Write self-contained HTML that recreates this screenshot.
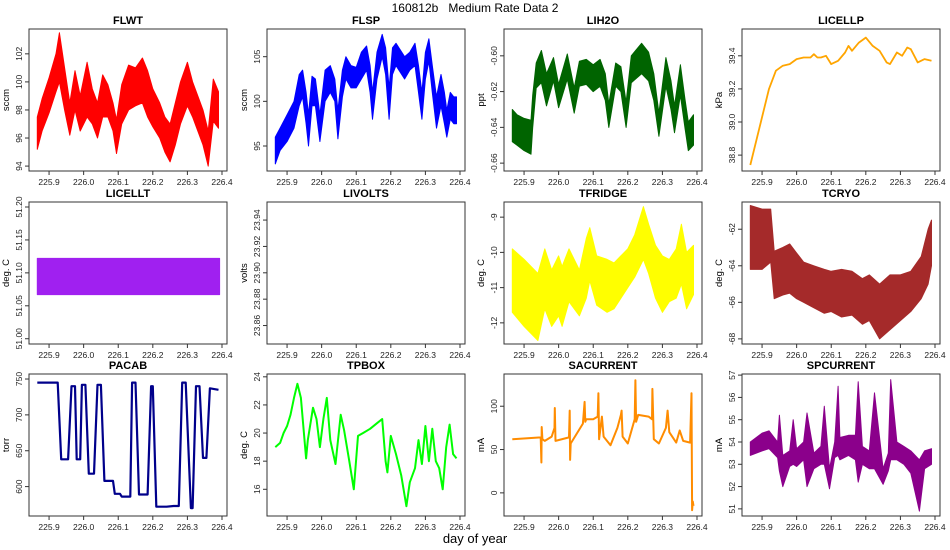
<!DOCTYPE html>
<html><head><meta charset="utf-8"><style>
html,body{margin:0;padding:0;background:#fff}
svg{display:block;font-family:"Liberation Sans",sans-serif}
</style></head><body>
<svg id="chart" width="950" height="550" viewBox="0 0 950 550" xmlns="http://www.w3.org/2000/svg">
<text x="475" y="12" text-anchor="middle" font-size="12">160812b&#160;&#160;&#160;Medium Rate Data 2</text>
<text x="475" y="543" text-anchor="middle" font-size="13">day of year</text>
</svg>
<script>
const xTicks=[225.9,226.0,226.1,226.2,226.3,226.4];
const xTickLabels=["225.9","226.0","226.1","226.2","226.3","226.4"];

const flwtT=[225.866,225.88,225.90,225.92,225.93,225.945,225.96,225.975,225.99,226.01,226.025,226.04,226.055,226.07,226.085,226.095,226.11,226.13,226.15,226.17,226.185,226.20,226.22,226.235,226.25,226.265,226.28,226.30,226.315,226.33,226.345,226.36,226.375,226.39];
const flwtLo=[95.2,96.5,97.8,99.3,100.0,98.0,96.2,98.0,96.5,97.5,97.0,96.0,97.5,97.5,96.5,94.9,97.0,98.0,98.3,98.5,97.5,96.8,96.0,95.0,94.3,95.5,97.0,98.3,97.5,96.5,95.5,94.0,97.2,96.7];
const flwtHi=[97.5,98.8,100.3,102.0,103.5,101.0,98.5,100.8,99.0,101.4,99.5,98.5,100.5,99.8,98.5,97.3,99.8,101.2,101.0,101.7,100.8,99.5,98.5,97.5,97.0,98.5,100.0,101.4,100.0,99.0,98.0,96.5,100.2,99.3];

const flspT=[225.866,225.88,225.90,225.92,225.935,225.945,225.955,225.962,225.972,225.982,225.995,226.01,226.025,226.038,226.047,226.06,226.07,226.085,226.10,226.115,226.13,226.14,226.147,226.16,226.175,226.185,226.195,226.205,226.215,226.24,226.255,226.27,226.28,226.29,226.30,226.31,226.32,226.332,226.345,226.355,226.362,226.372,226.382,226.39];
const flspLo=[93.0,94.5,95.5,97.0,99.5,100.5,97.5,95.0,99.5,99.5,95.5,100.0,101.0,100.0,95.8,100.5,102.5,101.5,101.5,102.5,103.5,101.0,98.0,102.5,105.0,103.0,98.0,103.0,104.0,102.5,103.5,104.0,101.0,98.0,102.5,104.5,101.0,97.0,99.5,97.5,96.0,98.0,97.5,97.5];
const flspHi=[96.0,97.0,98.5,100.0,103.0,103.5,101.0,98.5,102.8,102.5,98.5,103.5,104.0,102.5,99.0,103.5,105.0,104.0,103.8,105.5,106.2,104.0,101.0,105.5,107.5,106.0,101.5,106.0,106.5,105.0,105.5,106.5,104.0,101.0,105.5,107.0,104.0,100.5,103.0,101.0,99.0,101.0,100.5,100.5];

const lih2oT=[225.866,225.88,225.90,225.92,225.925,225.935,225.95,225.965,225.985,226.00,226.025,226.045,226.06,226.08,226.10,226.12,226.135,226.145,226.165,226.18,226.195,226.21,226.24,226.26,226.275,226.29,226.31,226.325,226.335,226.352,226.365,226.375,226.39];
const lih2oLo=[-0.648,-0.650,-0.653,-0.655,-0.640,-0.618,-0.615,-0.628,-0.614,-0.629,-0.613,-0.632,-0.617,-0.616,-0.620,-0.617,-0.625,-0.640,-0.617,-0.620,-0.640,-0.615,-0.610,-0.614,-0.625,-0.645,-0.617,-0.630,-0.643,-0.622,-0.640,-0.653,-0.650];
const lih2oHi=[-0.630,-0.633,-0.635,-0.636,-0.622,-0.604,-0.597,-0.610,-0.601,-0.616,-0.599,-0.618,-0.603,-0.602,-0.605,-0.602,-0.610,-0.627,-0.604,-0.606,-0.626,-0.600,-0.593,-0.598,-0.610,-0.632,-0.601,-0.614,-0.628,-0.605,-0.624,-0.637,-0.633];

const licellpT=[225.866,225.92,225.94,225.96,225.98,226.00,226.02,226.04,226.05,226.06,226.07,226.085,226.10,226.12,226.14,226.15,226.16,226.18,226.20,226.22,226.24,226.26,226.27,226.29,226.305,226.32,226.33,226.35,226.37,226.39];
const licellpV=[38.74,39.20,39.31,39.34,39.35,39.38,39.39,39.39,39.41,39.39,39.39,39.40,39.35,39.37,39.42,39.46,39.43,39.48,39.51,39.46,39.43,39.36,39.35,39.42,39.40,39.45,39.44,39.36,39.38,39.37];

const licelltT=[225.866,226.393];
const licelltLo=[51.067,51.067];
const licelltHi=[51.122,51.122];

const tfridgeT=[225.866,225.90,225.94,225.96,225.98,226.00,226.01,226.03,226.06,226.08,226.09,226.11,226.14,226.16,226.18,226.20,226.22,226.245,226.26,226.28,226.30,226.32,226.34,226.355,226.37,226.39];
const tfridgeLo=[-11.7,-12.1,-12.5,-11.6,-12.1,-11.8,-12.1,-11.4,-11.8,-11.3,-10.8,-11.5,-11.7,-11.6,-11.3,-11.0,-10.7,-10.2,-10.6,-11.3,-11.7,-11.4,-11.3,-10.9,-11.6,-11.2];
const tfridgeHi=[-9.9,-10.2,-10.6,-9.9,-10.5,-10.1,-10.4,-9.9,-10.5,-9.6,-9.3,-10.1,-10.2,-10.3,-10.1,-9.9,-9.5,-8.7,-9.2,-9.8,-10.1,-10.2,-9.9,-9.2,-10.0,-9.8];

const tcryoT=[225.866,225.90,225.925,225.935,225.96,225.98,226.00,226.02,226.05,226.08,226.10,226.13,226.16,226.19,226.21,226.24,226.27,226.30,226.33,226.36,226.38,226.39];
const tcryoLo=[-64.2,-64.2,-63.8,-65.8,-65.6,-65.5,-65.8,-66.0,-66.3,-66.6,-66.5,-66.8,-66.7,-67.2,-67.0,-68.0,-67.5,-67.0,-66.5,-65.8,-65.0,-64.0];
const tcryoHi=[-60.7,-60.9,-60.9,-63.2,-63.0,-62.8,-63.3,-63.8,-64.0,-64.2,-64.3,-64.2,-64.3,-64.7,-64.5,-65.0,-64.5,-64.5,-64.3,-63.5,-62.0,-61.5];

const pacabT=[225.866,225.925,225.935,225.955,225.965,225.975,225.98,225.99,225.995,226.005,226.015,226.03,226.04,226.05,226.06,226.085,226.09,226.105,226.11,226.135,226.14,226.15,226.16,226.185,226.195,226.20,226.21,226.24,226.26,226.275,226.285,226.295,226.31,226.315,226.325,226.335,226.345,226.355,226.365,226.39];
const pacabV=[745,745,638,638,740,740,638,638,742,742,618,618,742,742,608,608,590,590,586,586,745,745,589,589,740,740,572,572,573,573,745,745,570,570,740,740,640,640,737,735];

const tpboxT=[225.866,225.88,225.89,225.90,225.91,225.92,225.93,225.94,225.955,225.96,225.975,225.985,225.995,226.005,226.015,226.025,226.04,226.055,226.065,226.08,226.093,226.105,226.12,226.14,226.16,226.175,226.185,226.19,226.20,226.215,226.23,226.245,226.255,226.27,226.28,226.29,226.30,226.31,226.32,226.33,226.34,226.35,226.36,226.37,226.38,226.39];
const tpboxV=[19.0,19.3,20.0,20.5,21.3,22.5,23.5,22.5,18.2,19.5,21.8,21.0,19.0,21.0,22.5,19.5,17.8,21.3,20.2,18.0,16.0,19.8,20.0,20.3,20.7,21.0,18.0,17.2,19.8,18.5,17.0,14.8,16.5,17.5,19.5,17.8,20.5,18.0,20.3,18.0,17.5,16.0,19.0,20.6,18.5,18.2];

const sacurT=[225.866,225.948,225.950,225.951,225.953,225.96,225.98,225.988,225.989,225.991,226.03,226.032,226.033,226.035,226.07,226.075,226.077,226.08,226.10,226.113,226.115,226.117,226.125,226.13,226.15,226.17,226.18,226.182,226.185,226.20,226.22,226.222,226.224,226.23,226.26,226.27,226.271,226.275,226.29,226.31,226.315,226.32,226.34,226.35,226.36,226.38,226.384,226.386,226.388,226.39];
const sacurV=[62,64,35,76,62,60,65,75,98,60,64,95,38,57,80,105,82,85,85,88,115,62,88,65,55,75,90,95,65,57,85,130,82,90,88,85,120,62,57,75,95,70,58,72,60,58,115,-20,-10,-15];

const spcurT=[225.866,225.90,225.92,225.945,225.95,225.96,225.98,225.99,226.00,226.02,226.03,226.05,226.07,226.08,226.095,226.11,226.12,226.125,226.15,226.17,226.178,226.19,226.21,226.225,226.25,226.265,226.272,226.29,226.31,226.33,226.355,226.37,226.39];
const spcurLo=[53.4,53.6,53.7,53.3,52.7,52.0,52.9,53.0,52.9,53.2,52.0,52.8,53.0,53.0,51.9,53.3,53.4,53.2,53.4,53.2,52.2,53.0,52.8,52.8,52.1,52.7,53.2,53.2,53.0,52.6,50.9,52.8,53.0];
const spcurHi=[54.0,54.4,54.5,54.0,55.2,53.4,53.6,55.0,53.7,54.0,55.3,53.5,53.8,55.6,52.8,54.0,56.5,54.2,54.3,54.3,56.7,53.8,53.6,56.2,52.8,53.5,56.8,54.0,53.8,53.6,53.2,53.6,53.7];

const panels=[
 {name:"FLWT",col:0,row:0,ylab:"sccm",ymin:93.65,ymax:103.77,yt:[94,96,98,100,102],ytl:["94","96","98","100","102"],color:"#ff0000",t:flwtT,lo:flwtLo,hi:flwtHi},
 {name:"FLSP",col:1,row:0,ylab:"sccm",ymin:92.2,ymax:108.1,yt:[95,100,105],ytl:["95","100","105"],color:"#0000ff",t:flspT,lo:flspLo,hi:flspHi},
 {name:"LIH2O",col:2,row:0,ylab:"ppt",ymin:-0.6644,ymax:-0.585,yt:[-0.66,-0.64,-0.62,-0.60],ytl:["-0.66","-0.64","-0.62","-0.60"],color:"#006400",t:lih2oT,lo:lih2oLo,hi:lih2oHi},
 {name:"LICELLP",col:3,row:0,ylab:"kPa",ymin:38.704,ymax:39.562,yt:[38.8,39.0,39.2,39.4],ytl:["38.8","39.0","39.2","39.4"],color:"#ffa500",t:licellpT,v:licellpV,sw:1.8},
 {name:"LICELLT",col:0,row:1,ylab:"deg. C",ymin:50.992,ymax:51.2076,yt:[51.0,51.05,51.1,51.15,51.2],ytl:["51.00","51.05","51.10","51.15","51.20"],color:"#a020f0",t:licelltT,lo:licelltLo,hi:licelltHi},
 {name:"LIVOLTS",col:1,row:1,ylab:"volts",ymin:23.846,ymax:23.9537,yt:[23.86,23.88,23.90,23.92,23.94],ytl:["23.86","23.88","23.90","23.92","23.94"],color:"#000",t:[]},
 {name:"TFRIDGE",col:2,row:1,ylab:"deg. C",ymin:-12.6,ymax:-8.57,yt:[-12,-11,-10,-9],ytl:["-12","-11","-10","-9"],color:"#ffff00",t:tfridgeT,lo:tfridgeLo,hi:tfridgeHi},
 {name:"TCRYO",col:3,row:1,ylab:"deg. C",ymin:-68.28,ymax:-60.51,yt:[-68,-66,-64,-62],ytl:["-68","-66","-64","-62"],color:"#a52a2a",t:tcryoT,lo:tcryoLo,hi:tcryoHi},
 {name:"PACAB",col:0,row:2,ylab:"torr",ymin:559,ymax:757,yt:[600,650,700,750],ytl:["600","650","700","750"],color:"#00008b",t:pacabT,v:pacabV,sw:2.2},
 {name:"TPBOX",col:1,row:2,ylab:"deg. C",ymin:14.1,ymax:24.2,yt:[16,18,20,22,24],ytl:["16","18","20","22","24"],color:"#00ff00",t:tpboxT,v:tpboxV,sw:2},
 {name:"SACURRENT",col:2,row:2,ylab:"mA",ymin:-26.7,ymax:137.2,yt:[0,50,100],ytl:["0","50","100"],color:"#ff8c00",t:sacurT,v:sacurV,sw:2},
 {name:"SPCURRENT",col:3,row:2,ylab:"mA",ymin:50.68,ymax:57.05,yt:[51,52,53,54,55,56,57],ytl:["51","52","53","54","55","56","57"],color:"#8b008b",t:spcurT,lo:spcurLo,hi:spcurHi}
];
const colX=[29,267,504,742], rowY=[29,202,374], PW=198, PH=142, XMIN=225.842, XMAX=226.4145;
const NS="http://www.w3.org/2000/svg";
const svg=document.getElementById("chart");
function mk(tag,attrs,parent){const e=document.createElementNS(NS,tag);for(const k in attrs)e.setAttribute(k,attrs[k]);(parent||svg).appendChild(e);return e;}
panels.forEach(p=>{
  const x0=colX[p.col], y0=rowY[p.row];
  const sx=t=>x0+(t-XMIN)/(XMAX-XMIN)*PW;
  const sy=v=>y0+PH-(v-p.ymin)/(p.ymax-p.ymin)*PH;
  const key=p.name.toLowerCase();
  const g=mk("g",{});
  
  
  if(p.lo&&p.t.length){
    let pts=p.t.map((t,i)=>sx(t).toFixed(1)+","+sy(p.hi[i]).toFixed(1));
    for(let i=p.t.length-1;i>=0;i--)pts.push(sx(p.t[i]).toFixed(1)+","+sy(p.lo[i]).toFixed(1));
    const poly=mk("polygon",{points:pts.join(" "),fill:p.color,stroke:p.color,"stroke-width":1,"stroke-linejoin":"round"},g);
    
    
  } else if(p.v){
    const pts=p.t.map((t,i)=>sx(t).toFixed(1)+","+sy(p.v[i]).toFixed(1)).join(" ");
    const pl=mk("polyline",{points:pts,fill:"none",stroke:p.color,"stroke-width":p.sw||1.5,"stroke-linejoin":"round"},g);
    
    
  }
  const fr=mk("rect",{x:x0,y:y0,width:PW,height:PH,fill:"none",stroke:"#333","stroke-width":1},g);
  
  
  const ti=mk("text",{x:x0+PW/2,y:y0-5,"text-anchor":"middle","font-size":11,"font-weight":"bold"},g);
  ti.textContent=p.name;
  
  
  xTicks.forEach((t,i)=>{
    const x=sx(t);
    mk("line",{x1:x,y1:y0+PH,x2:x,y2:y0+PH+4,stroke:"#333"},g);
    const tl=mk("text",{x:x,y:y0+PH+14,"text-anchor":"middle","font-size":8.5,fill:"#222"},g);
    tl.textContent=xTickLabels[i];
    
    
  });
  p.yt.forEach((v,i)=>{
    const y=sy(v);
    mk("line",{x1:x0-4,y1:y,x2:x0,y2:y,stroke:"#333"},g);
    const tl=mk("text",{x:0,y:0,"text-anchor":"middle","font-size":8.5,fill:"#222",transform:`translate(${x0-7},${y}) rotate(-90)`},g);
    tl.textContent=p.ytl[i];
    
    
  });
  const yl=mk("text",{x:0,y:0,"text-anchor":"middle","font-size":9.5,transform:`translate(${x0-20},${y0+PH/2}) rotate(-90)`},g);
  yl.textContent=p.ylab;
  
  
});
</script>
</body></html>
